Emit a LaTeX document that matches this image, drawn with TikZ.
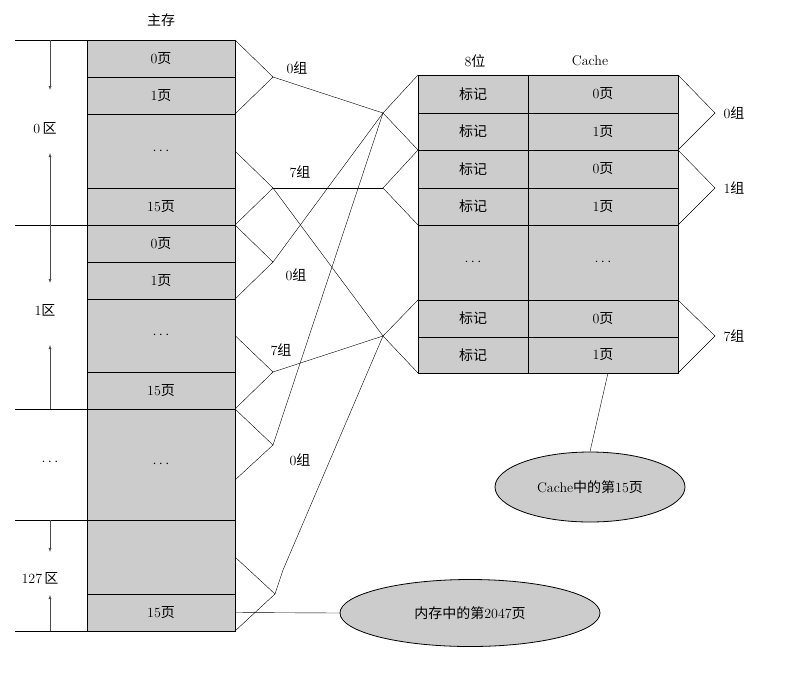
\documentclass[tikz,border=0pt]{standalone}
\usepackage{fontspec}
\newfontfamily\cjk{Noto Sans CJK SC}
\usetikzlibrary{shapes.geometric}
\usetikzlibrary{positioning}
\usetikzlibrary{calc}
\definecolor{cellgray}{gray}{0.80}
\newcommand{\zh}[1]{{\cjk #1}}

\begin{document}
\begin{tikzpicture}[x=1pt, y=-1pt, every node/.style={font=\fontsize{14}{16}\selectfont},
    cell/.style={draw=black, fill=cellgray, minimum width=148pt, anchor=north west, inner sep=0pt, outer sep=0pt},
    tag/.style={draw=black, fill=cellgray, minimum width=110pt, anchor=north west, inner sep=0pt, outer sep=0pt},
    pagec/.style={draw=black, fill=cellgray, minimum width=150pt, anchor=north west, inner sep=0pt, outer sep=0pt},
    wire/.style={draw=black, thin},
    zone/.style={draw=black!70, thin, -latex},
    blob/.style={ellipse, draw=black, thick, fill=cellgray}]

    \useasboundingbox (0,0) rectangle (800,673);

    % main memory
    \node[cell, minimum height=37pt] (m1) at (87,40) {0\zh{页}};
    \node[cell, minimum height=37pt] (m2) at (87,77) {1\zh{页}};
    \node[cell, minimum height=74pt] (m3) at (87,114) {$\cdots$};
    \node[cell, minimum height=37pt] (m4) at (87,188) {15\zh{页}};
    \node[cell, minimum height=37pt] (m5) at (87,225) {0\zh{页}};
    \node[cell, minimum height=37pt] (m6) at (87,262) {1\zh{页}};
    \node[cell, minimum height=73pt] (m7) at (87,299) {$\cdots$};
    \node[cell, minimum height=37pt] (m8) at (87,372) {15\zh{页}};
    \node[cell, minimum height=111pt] (m9) at (87,409) {$\cdots$};
    \node[cell, minimum height=74pt] (m10) at (87,520) {};
    \node[cell, minimum height=37pt] (m11) at (87,594) {15\zh{页}};
    \draw[thick] (m1.north west) rectangle (m11.south east);
    \node (mtitle) at (161,20) {\zh{主存}};

    % zones
    \foreach \y in {40,225,409,520,631} \draw[wire] (15,\y) -- (87,\y);
    \draw[zone] (50,40) -- (50,90);
    \draw[zone] (50,225) -- (50,153);
    \draw[zone] (50,225) -- (50,283);
    \draw[zone] (50,409) -- (50,345);
    \draw[zone] (50,520) -- (50,552);
    \draw[zone] (50,631) -- (50,595);
    \node (z0) at (45,128) {0\,\zh{区}};
    \node (z1) at (45,310) {1\zh{区}};
    \node (zd) at (50,462) {$\cdots$};
    \node (z127) at (40,578) {127\,\zh{区}};

    % cache
    \node[tag, minimum height=38pt] (t1) at (418,75) {\zh{标记}};
    \node[tag, minimum height=37pt] (t2) at (418,113) {\zh{标记}};
    \node[tag, minimum height=38pt] (t3) at (418,150) {\zh{标记}};
    \node[tag, minimum height=37pt] (t4) at (418,188) {\zh{标记}};
    \node[tag, minimum height=75pt] (t5) at (418,225) {$\cdots$};
    \node[tag, minimum height=37pt] (t6) at (418,300) {\zh{标记}};
    \node[tag, minimum height=36pt] (t7) at (418,337) {\zh{标记}};
    \node[pagec, minimum height=38pt] (c1) at (528,75) {0\zh{页}};
    \node[pagec, minimum height=37pt] (c2) at (528,113) {1\zh{页}};
    \node[pagec, minimum height=38pt] (c3) at (528,150) {0\zh{页}};
    \node[pagec, minimum height=37pt] (c4) at (528,188) {1\zh{页}};
    \node[pagec, minimum height=75pt] (c5) at (528,225) {$\cdots$};
    \node[pagec, minimum height=37pt] (c6) at (528,300) {0\zh{页}};
    \node[pagec, minimum height=36pt] (c7) at (528,337) {1\zh{页}};
    \draw[thick] (t1.north west) rectangle (c7.south east);
    \node (bits) at (475,61) {8\zh{位}};
    \node (ctitle) at (590,61) {Cache};

    % group points on memory side
    \coordinate (a0) at (273,77);
    \coordinate (a7) at (273,188);
    \coordinate (b0) at (273,262);
    \coordinate (b7) at (273,372);
    \coordinate (d0) at (273,445);
    \coordinate (e7) at (275,594);
    \coordinate (m9low) at (235,480);
    \draw[wire] (m1.north east) -- (a0) -- (m2.south east);
    \draw[wire] (m3.east) -- (a7) -- (m4.south east);
    \draw[wire] (m5.north east) -- (b0) -- (m6.south east);
    \draw[wire] (m7.east) -- (b7) -- (m8.south east);
    \draw[wire] (m9.north east) -- (d0) -- (m9low);
    \draw[wire] (m10.east) -- (e7) -- (m11.south east);
    \node (la0) at (297,68) {0\zh{组}};
    \node (la7) at (300,172) {7\zh{组}};
    \node (lb0) at (296,275) {0\zh{组}};
    \node (lb7) at (281,350) {7\zh{组}};
    \node (ld0) at (300,460) {0\zh{组}};

    % group points on cache side
    \coordinate (g0) at (383,113);
    \coordinate (g1) at (383,188);
    \coordinate (g7) at (383,336);
    \draw[wire] (t1.north west) -- (g0) -- (t2.south west);
    \draw[wire] (t3.north west) -- (g1) -- (t4.south west);
    \draw[wire] (t6.north west) -- (g7) -- (t7.south west);

    % mapping
    \draw[wire] (a0) -- (g0);
    \draw[wire] (a7) -- (g1);
    \draw[wire] (a7) -- (g7);
    \draw[wire] (b0) -- (g0);
    \draw[wire] (b7) -- (g7);
    \draw[wire] (d0) -- (g0);
    \draw[wire] (e7) -- (283,570) -- (g7);

    % right braces
    \coordinate (r0) at (715,113);
    \coordinate (r1) at (715,188);
    \coordinate (r7) at (715,336);
    \draw[wire] (c1.north east) -- (r0) -- (c2.south east);
    \draw[wire] (c3.north east) -- (r1) -- (c4.south east);
    \draw[wire] (c6.north east) -- (r7) -- (c7.south east);
    \node[anchor=west] (lr0) at (720,113) {0\zh{组}};
    \node[anchor=west] (lr1) at (720,188) {1\zh{组}};
    \node[anchor=west] (lr7) at (720,336) {7\zh{组}};

    % notes
    \node[blob, minimum width=190pt, minimum height=70pt] (cnote) at (590,487) {Cache\zh{中的第}15\zh{页}};
    \node[blob, minimum width=260pt, minimum height=67pt] (mnote) at (470,613) {\zh{内存中的第}2047\zh{页}};
    \draw[wire] (608,373) -- (cnote.north);
    \draw[wire] (m11.east) -- (mnote.west);
\end{tikzpicture}
\end{document}
